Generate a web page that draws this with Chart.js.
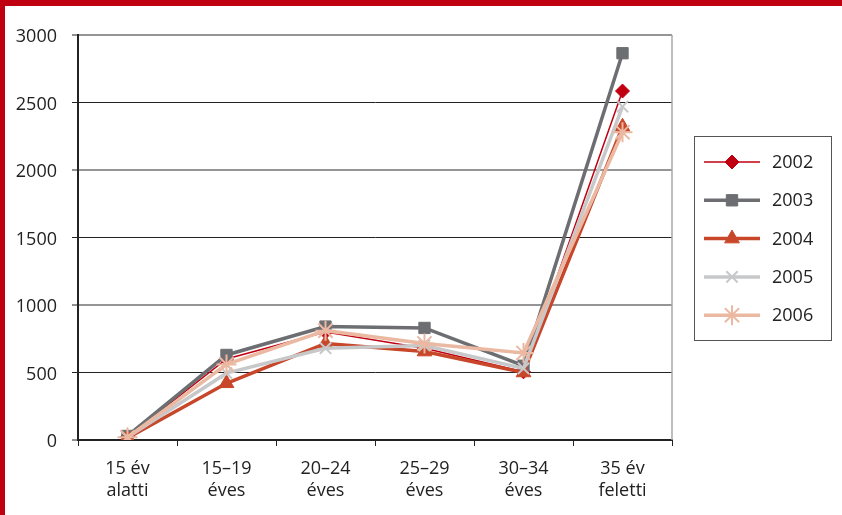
<!DOCTYPE html>
<html>
<head>
<meta charset="utf-8">
<script src="https://cdn.jsdelivr.net/npm/chart.js@4.4.1/dist/chart.umd.min.js"></script>
<style>
    html, body { margin: 0; padding: 0; background: #fff; }
    #wrap { position: relative; width: 842px; height: 515px; overflow: hidden; }
    #chart { position: absolute; left: 0; top: 0; }
    .edge { position: absolute; background: #be0010; }
</style>
</head>
<body>
<div id="wrap">
    <canvas id="chart" width="842" height="515"></canvas>
    <div class="edge" style="left:0;top:0;width:842px;height:6px"></div>
    <div class="edge" style="left:0;top:0;width:5px;height:515px"></div>
</div>
<script>
    // korcsoportok
    var categories = [
        ['15 év', 'alatti'],
        ['15–19', 'éves'],
        ['20–24', 'éves'],
        ['25–29', 'éves'],
        ['30–34', 'éves'],
        ['35 év', 'feletti']
    ];

    var years = ['2002', '2003', '2004', '2005', '2006'];

    var v2002 = [25, 600, 800, 680, 505, 2585];
    var v2003 = [30, 630, 840, 830, 550, 2865];
    var v2004 = [15, 420, 715, 655, 500, 2320];
    var v2005 = [20, 495, 680, 700, 530, 2470];
    var v2006 = [20, 560, 810, 715, 645, 2280];

    var yTicks = [0, 500, 1000, 1500, 2000, 2500, 3000];

    var FONT = '"Open Sans", "DejaVu Sans", sans-serif';

    var styles = [
        {color: '#c00010', width: 1.5, point: 'rectRot',  radius: 7,   border: 1},
        {color: '#6d6e72', width: 3.5, point: 'rect',     radius: 8,   border: 1},
        {color: '#c8472a', width: 3.5, point: 'triangle', radius: 8.5, border: 1},
        {color: '#c7c8ca', width: 3.5, point: 'crossRot', radius: 8,   border: 2},
        {color: '#ebb8a2', width: 3.5, point: 'star',     radius: 10,  border: 2}
    ];

    var series = [v2002, v2003, v2004, v2005, v2006];

    var datasets = years.map(function(year, i){
        var s = styles[i];
        return {
            label: year,
            data: series[i],
            borderColor: s.color,
            borderWidth: s.width,
            backgroundColor: s.color,
            pointStyle: s.point,
            pointRadius: s.radius,
            pointBorderWidth: s.border,
            pointBackgroundColor: s.color,
            pointBorderColor: s.color,
            tension: 0,
            order: years.length - 1 - i
        };
    });

    // jobb oldali keret + jelmagyarazat dobozzal
    var framePlugin = {
        id: 'frame',
        afterDraw: function(chart){
            var ctx = chart.ctx, a = chart.chartArea;
            ctx.save();
            ctx.strokeStyle = '#a8a8a8';
            ctx.lineWidth = 1.5;
            ctx.beginPath();
            ctx.moveTo(a.right, a.top);
            ctx.lineTo(a.right, a.bottom);
            ctx.stroke();

            var boxX = a.right + 22, boxY = 136, boxW = 137, boxH = 204;
            ctx.strokeStyle = '#555';
            ctx.lineWidth = 1;
            ctx.strokeRect(boxX + 0.5, boxY + 0.5, boxW, boxH);

            ctx.font = '18px ' + FONT;
            ctx.textBaseline = 'middle';
            ctx.textAlign = 'left';
            for(var i = 0; i < years.length; i++){
                var s = styles[i];
                var y = boxY + 26 + i * 38.3;
                var x0 = boxX + 10, x1 = boxX + 66;
                ctx.strokeStyle = s.color;
                ctx.lineWidth = s.width;
                ctx.beginPath();
                ctx.moveTo(x0, y);
                ctx.lineTo(x1, y);
                ctx.stroke();
                ctx.fillStyle = s.color;
                ctx.strokeStyle = s.color;
                ctx.lineWidth = s.border;
                Chart.helpers.drawPoint(ctx, {pointStyle: s.point, radius: s.radius, rotation: 0, borderWidth: s.border}, (x0 + x1) / 2, y);
                ctx.fillStyle = '#222';
                ctx.fillText(years[i], boxX + 78, y + 1);
            }
            ctx.restore();
        }
    };

    var chart = new Chart(document.getElementById('chart'), {
        type: 'line',
        data: {
            labels: categories,
            datasets: datasets
        },
        plugins: [framePlugin],
        options: {
            responsive: false,
            animation: false,
            layout: { padding: {top: 35, right: 170, bottom: 0, left: 0} },
            plugins: {
                legend: { display: false },
                tooltip: { enabled: false }
            },
            scales: {
                x: {
                    offset: true,
                    afterFit: function(scale){ scale.height = 75; },
                    border: { color: '#222', width: 2 },
                    grid: {
                        offset: true,
                        drawOnChartArea: false,
                        drawTicks: true,
                        tickLength: 6,
                        tickColor: '#222',
                        tickWidth: 1
                    },
                    ticks: {
                        color: '#222',
                        padding: 12,
                        maxRotation: 0,
                        font: { family: FONT, size: 18, lineHeight: 1.2 }
                    }
                },
                y: {
                    min: 0,
                    max: 3000,
                    afterFit: function(scale){ scale.width = 78; },
                    afterBuildTicks: function(scale){
                        scale.ticks = yTicks.map(function(v){ return {value: v}; });
                    },
                    border: { color: '#222', width: 2 },
                    grid: {
                        color: function(c){ return c.tick && c.tick.value % 1000 === 0 ? '#959595' : '#222'; },
                        lineWidth: function(c){ return c.tick && c.tick.value % 1000 === 0 ? 2 : 1; },
                        tickColor: '#222',
                        tickLength: 6,
                        tickWidth: 1
                    },
                    ticks: {
                        color: '#222',
                        padding: 15,
                        labelOffset: 2,
                        font: { family: FONT, size: 18 },
                        callback: function(v){ return String(v); }
                    }
                }
            }
        }
    });
</script>
</body>
</html>
